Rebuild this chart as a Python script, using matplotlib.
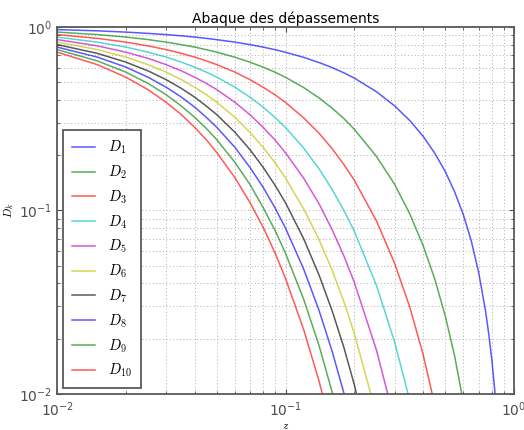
import matplotlib
matplotlib.use("Agg")
import matplotlib.pyplot as plt

plt.rcParams["mathtext.fontset"] = "cm"

# damping ratio samples
z = [0.01, 0.015, 0.02, 0.025, 0.03, 0.035, 0.04, 0.045, 0.05, 0.06, 0.07, 0.08, 0.09, 0.10,
     0.12, 0.14, 0.16, 0.18, 0.20, 0.25, 0.30, 0.35, 0.40, 0.45, 0.50, 0.55, 0.60, 0.65,
     0.70, 0.75, 0.775, 0.80, 0.825, 0.85]

# overshoot values (curves stop once below 1e-2)
D1 = [0.969, 0.954, 0.939, 0.924, 0.910, 0.896, 0.882, 0.868, 0.854, 0.828, 0.802, 0.777, 0.753, 0.729,
      0.684, 0.641, 0.601, 0.563, 0.527, 0.444, 0.372, 0.309, 0.254, 0.205, 0.163, 0.126, 0.0948, 0.0681,
      0.0460, 0.0284, 0.0212, 0.0152, 0.0102, 0.00629]
D2 = [0.939, 0.910, 0.882, 0.855, 0.828, 0.802, 0.778, 0.753, 0.730, 0.685, 0.643, 0.604, 0.567, 0.532,
      0.468, 0.411, 0.361, 0.317, 0.277, 0.197, 0.139, 0.0956, 0.0644, 0.0422, 0.0266, 0.0160, 0.00898]
D3 = [0.910, 0.868, 0.828, 0.790, 0.754, 0.719, 0.686, 0.654, 0.624, 0.568, 0.516, 0.469, 0.427, 0.388,
      0.320, 0.264, 0.217, 0.178, 0.146, 0.0877, 0.0516, 0.0296, 0.0164, 0.00866]
D4 = [0.882, 0.828, 0.778, 0.730, 0.686, 0.644, 0.605, 0.568, 0.533, 0.470, 0.414, 0.365, 0.321, 0.283,
      0.219, 0.169, 0.130, 0.100, 0.0769, 0.0390, 0.0192, 0.00914]
D5 = [0.855, 0.790, 0.730, 0.675, 0.624, 0.577, 0.533, 0.493, 0.456, 0.389, 0.332, 0.283, 0.242, 0.206,
      0.150, 0.109, 0.0784, 0.0565, 0.0405, 0.0173, 0.00716]
D6 = [0.828, 0.754, 0.686, 0.624, 0.568, 0.517, 0.470, 0.428, 0.389, 0.322, 0.266, 0.220, 0.182, 0.150,
      0.102, 0.0696, 0.0471, 0.0318, 0.0213, 0.00770]
D7 = [0.803, 0.719, 0.644, 0.577, 0.517, 0.463, 0.415, 0.371, 0.333, 0.267, 0.214, 0.171, 0.137, 0.110,
      0.0701, 0.0446, 0.0283, 0.0179, 0.0112, 0.00342]
D8 = [0.778, 0.686, 0.605, 0.533, 0.470, 0.415, 0.366, 0.322, 0.284, 0.221, 0.171, 0.133, 0.103, 0.0800,
      0.0479, 0.0286, 0.0170, 0.0101, 0.00592]
D9 = [0.754, 0.654, 0.568, 0.493, 0.428, 0.371, 0.322, 0.280, 0.243, 0.183, 0.138, 0.103, 0.0777, 0.0583,
      0.0328, 0.0184, 0.0102, 0.00566]
D10 = [0.730, 0.624, 0.533, 0.456, 0.389, 0.333, 0.284, 0.243, 0.207, 0.151, 0.110, 0.0804, 0.0585, 0.0425,
       0.0224, 0.0118, 0.00615]

curves = [D1, D2, D3, D4, D5, D6, D7, D8, D9, D10]
colors = ["b", "g", "r", "c", "m", "y", "k", "b", "g", "r"]

fig = plt.figure(figsize=(5.24, 4.30), dpi=100)
ax = fig.add_axes([0.109, 0.084, 0.872, 0.853])

for k, d in enumerate(curves):
    ax.loglog(z[:len(d)], d, color=colors[k], alpha=0.65, lw=1.1, label=f"$D_{{{k+1}}}$")

ax.set_xlim(1e-2, 1)
ax.set_ylim(1e-2, 1)
ax.grid(True, which="both", color="0.68", linestyle=(0, (1, 2.5)), lw=0.7)
ax.tick_params(which="both", direction="in", top=True, right=True, labelsize=10, colors="0.3")
ax.tick_params(axis="x", pad=5)
for sp in ax.spines.values():
    sp.set_color("0.35")
    sp.set_linewidth(1.3)

ax.set_title("Abaque des dépassements", fontsize=10, pad=3)
ax.set_xlabel("$z$", fontsize=8, labelpad=1)
ax.set_ylabel("$D_k$", fontsize=8, labelpad=2)

leg = ax.legend(loc="lower left", fontsize=10.5, fancybox=False, framealpha=1,
                edgecolor="0.35", borderaxespad=0.4, labelspacing=0.5,
                handlelength=1.6, handletextpad=0.9, borderpad=0.6)
leg.get_frame().set_linewidth(1.3)

fig.savefig("out.png", dpi=100)
